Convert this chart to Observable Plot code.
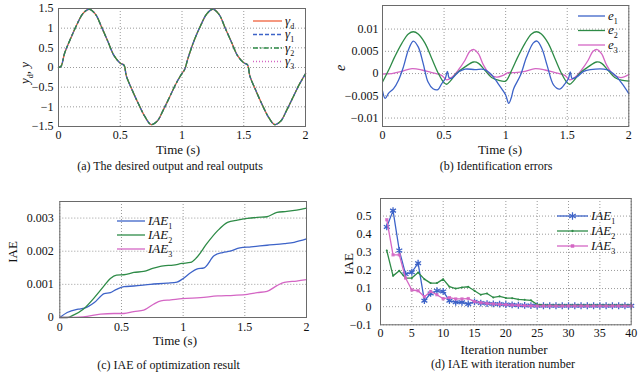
<!DOCTYPE html>
<html><head><meta charset="utf-8">
<script src="https://cdn.jsdelivr.net/npm/d3@7"></script>
<script src="https://cdn.jsdelivr.net/npm/@observablehq/plot@0.6"></script>
<style>
body{margin:0;background:#fff;}
#wrap{position:relative;width:641px;height:374px;overflow:hidden;font-family:"Liberation Serif","Times New Roman",serif;color:#111;}
#wrap svg, #wrap svg text{font-family:"Liberation Serif","Times New Roman",serif !important;}
.panel{position:absolute;}
.cap{position:absolute;font-size:12px;line-height:14px;white-space:nowrap;transform:translateX(-50%);}
</style></head><body><div id="wrap"></div>
<script>
// ---------- (a) desired output and real outputs ----------
const tA = [0,0.02,0.05,0.1,0.15,0.2,0.25,0.3,0.35,0.4,0.45,0.5,0.53,0.55,0.6,0.65,0.7,0.75,0.8,0.85,0.9,0.95,1.0,1.02,1.05,1.1,1.15,1.2,1.25,1.3,1.35,1.4,1.45,1.5,1.53,1.55,1.6,1.65,1.7,1.75,1.8,1.85,1.9,1.95,2.0];
const yd = [0,0.03,0.37,0.75,1.1,1.38,1.48,1.35,1.02,0.66,0.3,0.11,0.06,-0.22,-0.6,-0.94,-1.25,-1.45,-1.36,-1.07,-0.75,-0.42,-0.15,-0.06,0.25,0.7,1.06,1.36,1.48,1.35,1.0,0.65,0.3,0.12,0.07,-0.22,-0.6,-0.95,-1.26,-1.45,-1.36,-1.07,-0.75,-0.43,-0.16];
const y1 = [0,0.03,0.37,0.75,1.1,1.38,1.48,1.35,1.02,0.66,0.3,0.11,0.06,-0.22,-0.6,-0.94,-1.25,-1.45,-1.36,-1.07,-0.75,-0.42,-0.15,-0.06,0.25,0.7,1.06,1.36,1.48,1.35,1.0,0.65,0.3,0.12,0.07,-0.22,-0.6,-0.95,-1.26,-1.45,-1.36,-1.07,-0.75,-0.43,-0.16];
const y2 = [0,0.03,0.37,0.75,1.1,1.38,1.48,1.35,1.02,0.66,0.3,0.11,0.06,-0.22,-0.6,-0.94,-1.25,-1.45,-1.36,-1.07,-0.75,-0.42,-0.15,-0.06,0.25,0.7,1.06,1.36,1.48,1.35,1.0,0.65,0.3,0.12,0.07,-0.22,-0.6,-0.95,-1.26,-1.45,-1.36,-1.07,-0.75,-0.43,-0.16];
const y3 = [0,0.03,0.37,0.75,1.1,1.38,1.48,1.35,1.02,0.66,0.3,0.11,0.06,-0.22,-0.6,-0.94,-1.25,-1.45,-1.36,-1.07,-0.75,-0.42,-0.15,-0.06,0.25,0.7,1.06,1.36,1.48,1.35,1.0,0.65,0.3,0.12,0.07,-0.22,-0.6,-0.95,-1.26,-1.45,-1.36,-1.07,-0.75,-0.43,-0.16];

// ---------- (b) identification errors ----------
const tE1 = [0,0.022,0.05,0.09,0.13,0.17,0.21,0.25,0.29,0.33,0.37,0.41,0.45,0.48,0.51,0.527,0.54,0.56,0.62,0.67,0.75,0.83,0.89,0.94,0.97,1.0,1.025,1.045,1.065,1.12,1.17,1.225,1.255,1.295,1.336,1.39,1.44,1.484,1.51,1.525,1.54,1.58,1.634,1.687,1.82,1.89,1.944,2.0];
const e1  = [-0.0039,-0.0056,-0.0044,-0.0034,-0.0015,0.0015,0.0053,0.0073,0.006,0.0023,-0.0019,-0.0034,-0.0036,-0.0023,-0.0011,0.0005,-0.0009,-0.0011,0.0004,0.001,0.0009,0.0009,-0.0004,-0.0023,-0.0035,-0.0048,-0.0067,-0.0055,-0.0034,-0.0004,0.0037,0.0069,0.0073,0.0056,0.0019,-0.0026,-0.0035,-0.0022,-0.0011,0.0004,-0.0011,-0.0007,0.0005,0.0009,0.0009,-0.0004,-0.0022,-0.0045];
const tE2 = [0,0.05,0.1,0.157,0.21,0.25,0.29,0.346,0.4,0.454,0.495,0.52,0.55,0.6,0.67,0.74,0.78,0.83,0.886,0.94,1.0,1.05,1.1,1.157,1.21,1.25,1.29,1.346,1.4,1.454,1.495,1.52,1.55,1.6,1.67,1.74,1.78,1.83,1.886,1.94,2.0];
const e2  = [-0.0019,0.0008,0.0038,0.0068,0.0089,0.0094,0.0089,0.0068,0.0034,0,-0.0019,-0.0024,-0.0017,0,0.0015,0.0026,0.0023,0.0008,-0.0009,-0.0015,-0.0017,0.0008,0.0038,0.0068,0.0089,0.0094,0.0089,0.0068,0.0034,0,-0.0019,-0.0024,-0.0017,0,0.0015,0.0026,0.0023,0.0008,-0.0009,-0.0015,-0.0017];
const tE3 = [0,0.076,0.157,0.24,0.32,0.4,0.48,0.52,0.56,0.616,0.67,0.71,0.743,0.78,0.82,0.873,0.927,0.98,1.02,1.076,1.157,1.24,1.32,1.4,1.48,1.52,1.56,1.616,1.67,1.71,1.743,1.78,1.82,1.873,1.935,2.0];
const e3  = [-0.0001,0,0.0005,0.0011,0.0008,0.0002,-0.0004,-0.0014,-0.0009,0.0008,0.003,0.005,0.0054,0.0044,0.0019,-0.0002,-0.0008,-0.0004,0.0002,0.0002,0.0005,0.0011,0.0008,0.0002,-0.0004,-0.0014,-0.0009,0.0008,0.003,0.005,0.0054,0.0044,0.0019,-0.0002,-0.0009,-0.0002];

// ---------- (c) IAE of optimization result ----------
const tC1 = [0,0.06,0.15,0.2,0.28,0.36,0.41,0.46,0.52,0.6,0.735,0.87,0.95,0.99,1.06,1.11,1.17,1.25,1.32,1.38,1.46,1.55,1.68,1.82,1.9,2.0];
const iaeC1 = [0,0.00015,0.00025,0.00028,0.00045,0.00072,0.00075,0.00085,0.00093,0.00095,0.001,0.00104,0.00107,0.00115,0.00135,0.00146,0.0015,0.00186,0.00196,0.002,0.0021,0.00213,0.00218,0.00223,0.00227,0.00237];
const tC2 = [0,0.06,0.11,0.19,0.28,0.36,0.41,0.46,0.52,0.6,0.68,0.76,0.84,0.92,0.99,1.06,1.11,1.19,1.28,1.36,1.44,1.52,1.6,1.68,1.76,1.84,1.92,2.0];
const iaeC2 = [0,0,0.00007,0.00025,0.0006,0.00096,0.00118,0.00128,0.00129,0.00136,0.00139,0.00149,0.00156,0.00158,0.00163,0.00166,0.00181,0.00222,0.00262,0.00287,0.00294,0.00299,0.00302,0.00304,0.00317,0.0032,0.00324,0.0033];
const tC3 = [0,0.19,0.33,0.44,0.52,0.6,0.68,0.76,0.82,0.9,0.99,1.14,1.28,1.41,1.52,1.6,1.68,1.76,1.82,1.92,2.0];
const iaeC3 = [0,0.00002,0.0001,0.00012,0.00012,0.00018,0.00022,0.0004,0.0005,0.00053,0.00057,0.0006,0.00065,0.00067,0.0007,0.00075,0.00079,0.00096,0.00106,0.0011,0.00114];

// ---------- (d) IAE with iteration number ----------
const iter = [1,2,3,4,5,6,7,8,9,10,11,12,13,14,15,16,17,18,19,20,21,22,23,24,25,26,27,28,29,30,31,32,33,34,35,36,37,38,39,40];
const iaeD1 = [0.44,0.53,0.31,0.18,0.19,0.24,0.033,0.073,0.088,0.084,0.033,0.024,0.024,0.015,0.027,0.02,0.017,0.015,0.014,0.012,0.01,0.008,0.007,0.006,0.005,0.005,0.005,0.005,0.005,0.005,0.005,0.005,0.005,0.005,0.005,0.005,0.005,0.005,0.005,0.005];
const iaeD2 = [0.31,0.17,0.198,0.158,0.158,0.189,0.152,0.13,0.13,0.152,0.11,0.1,0.106,0.11,0.088,0.066,0.073,0.051,0.057,0.048,0.047,0.04,0.038,0.035,0.012,0.008,0.008,0.008,0.008,0.008,0.008,0.008,0.008,0.008,0.008,0.008,0.008,0.008,0.008,0.008];
const iaeD3 = [0.48,0.286,0.286,0.158,0.092,0.088,0.055,0.084,0.066,0.044,0.05,0.043,0.043,0.045,0.028,0.022,0.018,0.015,0.013,0.011,0.009,0.008,0.006,0.005,0.004,0.004,0.004,0.004,0.004,0.004,0.004,0.004,0.004,0.004,0.004,0.004,0.004,0.004,0.004,0.004];

// ---------- ticks ----------
const xTicksT = [0,0.5,1,1.5,2];
const yTicksA = [-1.5,-1,-0.5,0,0.5,1,1.5];
const yTicksB = [-0.01,-0.005,0,0.005,0.01];
const yTicksC = [0,0.001,0.002,0.003];
const xTicksD = [0,5,10,15,20,25,30,35,40];
const yTicksD = [-0.1,0,0.1,0.2,0.3,0.4,0.5];

const captions = ["(a) The desired output and real outputs","(b) Identification errors","(c) IAE of optimization result","(d) IAE with iteration number"];

// ---------- styling ----------
const FONT = "Liberation Serif, Times New Roman, serif";
const RED = "#f0603c", BLUE = "#3d63c8", GREEN = "#2e8b47", MAG = "#d466c4";
const fmt = d => String(d).replace("-", "\u2212");
const tbl = (xs, vs) => xs.map((x, i) => ({x, v: vs[i]}));
const wrap = document.getElementById("wrap");

function makePanel(o) {
  const svg = Plot.plot({
    width: o.width, height: o.height,
    marginTop: o.mt, marginRight: o.mr, marginBottom: o.mb, marginLeft: o.ml,
    style: {fontFamily: FONT, fontSize: "12px", color: "#111", background: "transparent", overflow: "visible"},
    x: {domain: o.xDomain, label: null},
    y: {domain: o.yDomain, label: null},
    marks: [
      Plot.gridX(o.xTicks, {stroke: "#9a9a9a", strokeOpacity: 1, strokeDasharray: "1,2"}),
      Plot.gridY(o.yTicks, {stroke: "#9a9a9a", strokeOpacity: 1, strokeDasharray: "1,2"}),
      ...o.marks,
      Plot.frame({stroke: "#6a6a6a"}),
      Plot.axisX(o.xTicks, {tickSize: 0, tickPadding: o.xpad, tickFormat: fmt, label: null, fill: "#111", fontSize: 12, fontFamily: FONT}),
      Plot.axisY(o.yTicks, {tickSize: 0, tickPadding: o.ypad, tickFormat: fmt, label: null, fill: "#111", fontSize: 12, fontFamily: FONT})
    ]
  });
  const div = document.createElement("div");
  div.className = "panel";
  div.style.left = o.left + "px";
  div.style.top = o.top + "px";
  div.appendChild(svg);
  wrap.appendChild(div);
  return svg;
}

function rich(svg, {x, y, size = 13, italic = false, rotate = 0, anchor = "middle", parts}) {
  const t = d3.select(svg).append("text")
    .attr("transform", `translate(${x},${y}) rotate(${rotate})`)
    .attr("text-anchor", anchor)
    .attr("font-family", FONT).attr("font-size", size)
    .attr("font-style", italic ? "italic" : "normal")
    .attr("fill", "#111");
  let shift = 0;
  for (const [s, sub] of parts) {
    const target = sub ? size * 0.3 : 0;
    const ts = t.append("tspan").text(s).attr("dy", target - shift);
    if (sub) ts.attr("font-size", size * 0.62).attr("font-style", "normal");
    shift = target;
  }
  return t;
}

function legend(svg, items, {x1, x2, tx, ys, size, italic = true}) {
  const g = d3.select(svg).append("g");
  items.forEach((it, i) => {
    const y = ys[i];
    g.append("line").attr("x1", x1).attr("x2", x2).attr("y1", y).attr("y2", y)
      .attr("stroke", it.stroke).attr("stroke-width", 1.3)
      .attr("stroke-dasharray", it.dash || null);
    if (it.symbol) {
      g.append("path").attr("d", d3.symbol(it.symbol, it.symSize)())
        .attr("transform", `translate(${(x1 + x2) / 2},${y})`)
        .attr("fill", it.fill || "none").attr("stroke", it.symStroke || "none").attr("stroke-width", 1.2);
    }
    rich(svg, {x: tx, y: y + size * 0.3, size, italic, anchor: "start", parts: it.parts});
  });
}

// ---------- panel (a) ----------
{
  const line = (vals, stroke, dash, w) => Plot.line(tbl(tA, vals), {x: "x", y: "v", stroke, strokeWidth: w, strokeDasharray: dash, curve: "catmull-rom"});
  const svg = makePanel({
    left: 0, top: 0, width: 320, height: 160, mt: 8, mr: 15, mb: 34, ml: 58,
    xDomain: [0, 2], yDomain: [-1.5, 1.5], xTicks: xTicksT, yTicks: yTicksA, xpad: 3.5, ypad: 5,
    marks: [line(y3, MAG, "1,2", 1), line(yd, RED, null, 1.4), line(y1, BLUE, "4,3", 1.3), line(y2, GREEN, "6,3,1.5,3", 1.3)]
  });
  rich(svg, {x: 178, y: 153.5, size: 13, parts: [["Time (s)"]]});
  rich(svg, {x: 29, y: 73, size: 13, italic: true, rotate: -90, parts: [["y"], ["d", true], [", y"]]});
  legend(svg, [
    {stroke: RED, parts: [["\u03b3"], ["d", true]]},
    {stroke: BLUE, dash: "4,2", parts: [["\u03b3"], ["1", true]]},
    {stroke: GREEN, dash: "5,2,1.5,2", parts: [["\u03b3"], ["2", true]]},
    {stroke: MAG, dash: "1,2", parts: [["\u03b3"], ["3", true]]}
  ], {x1: 253, x2: 282, tx: 285, ys: [21, 34.5, 48, 61.5], size: 13});
}

// ---------- panel (b) ----------
{
  const line = (xs, vals, stroke) => Plot.line(tbl(xs, vals), {x: "x", y: "v", stroke, strokeWidth: 1.3, curve: "catmull-rom"});
  const svg = makePanel({
    left: 320, top: 0, width: 321, height: 160, mt: 5, mr: 12.7, mb: 34, ml: 62,
    xDomain: [0, 2], yDomain: [-0.0119, 0.0153], xTicks: xTicksT, yTicks: yTicksB, xpad: 3.5, ypad: 4,
    marks: [line(tE3, e3, MAG), line(tE2, e2, GREEN), line(tE1, e1, BLUE)]
  });
  rich(svg, {x: 180, y: 153.5, size: 13, parts: [["Time (s)"]]});
  rich(svg, {x: 25, y: 68, size: 14, italic: true, rotate: -90, parts: [["e"]]});
  legend(svg, [
    {stroke: BLUE, parts: [["e"], ["1", true]]},
    {stroke: GREEN, parts: [["e"], ["2", true]]},
    {stroke: MAG, parts: [["e"], ["3", true]]}
  ], {x1: 258, x2: 285, tx: 288, ys: [16, 30.5, 45], size: 13});
}

// ---------- panel (c) ----------
{
  const line = (xs, vals, stroke) => Plot.line(tbl(xs, vals), {x: "x", y: "v", stroke, strokeWidth: 1.3, curve: "monotone-x"});
  const svg = makePanel({
    left: 0, top: 187, width: 320, height: 162, mt: 14, mr: 14, mb: 32, ml: 59.3,
    xDomain: [0, 2], yDomain: [0, 0.0035], xTicks: xTicksT, yTicks: yTicksC, xpad: 5, ypad: 6,
    marks: [line(tC1, iaeC1, BLUE), line(tC2, iaeC2, GREEN), line(tC3, iaeC3, MAG)]
  });
  rich(svg, {x: 175, y: 158, size: 13, parts: [["Time (s)"]]});
  rich(svg, {x: 17, y: 65, size: 13, rotate: -90, parts: [["IAE"]]});
  legend(svg, [
    {stroke: BLUE, parts: [["IAE"], ["1", true]]},
    {stroke: GREEN, parts: [["IAE"], ["2", true]]},
    {stroke: MAG, parts: [["IAE"], ["3", true]]}
  ], {x1: 117, x2: 145, tx: 148, ys: [34, 48, 62], size: 13});
}

// ---------- panel (d) ----------
{
  const d1 = tbl(iter, iaeD1), d2 = tbl(iter, iaeD2), d3v = tbl(iter, iaeD3);
  const svg = makePanel({
    left: 320, top: 187, width: 321, height: 170, mt: 11, mr: 10.3, mb: 32.7, ml: 60,
    xDomain: [0, 40], yDomain: [-0.1, 0.597], xTicks: xTicksD, yTicks: yTicksD, xpad: 4, ypad: 9,
    marks: [
      Plot.line(d1, {x: "x", y: "v", stroke: BLUE, strokeWidth: 1.3}),
      Plot.dot(d1, {x: "x", y: "v", symbol: "asterisk", r: 3.2, stroke: BLUE, strokeWidth: 1.3}),
      Plot.line(d2, {x: "x", y: "v", stroke: GREEN, strokeWidth: 1.3}),
      Plot.dot(d2, {x: "x", y: "v", r: 1, fill: GREEN}),
      Plot.line(d3v, {x: "x", y: "v", stroke: MAG, strokeWidth: 1.3}),
      Plot.dot(d3v, {x: "x", y: "v", symbol: "square", r: 1.8, fill: MAG, fillOpacity: 0.85})
    ]
  });
  rich(svg, {x: 184, y: 167, size: 13, parts: [["Iteration number"]]});
  rich(svg, {x: 33, y: 77, size: 13, rotate: -90, parts: [["IAE"]]});
  legend(svg, [
    {stroke: BLUE, symbol: d3.symbolAsterisk, symSize: 40, symStroke: BLUE, parts: [["IAE"], ["1", true]]},
    {stroke: GREEN, symbol: d3.symbolCircle, symSize: 4, fill: GREEN, parts: [["IAE"], ["2", true]]},
    {stroke: MAG, symbol: d3.symbolSquare, symSize: 12, fill: MAG, parts: [["IAE"], ["3", true]]}
  ], {x1: 237, x2: 268, tx: 271, ys: [29, 44, 59], size: 13});
}

// ---------- captions ----------
[[170, 159], [496, 159], [168.5, 358], [503, 357]].forEach(([cx, cy], i) => {
  const d = document.createElement("div");
  d.className = "cap";
  d.style.left = cx + "px";
  d.style.top = cy + "px";
  d.textContent = captions[i];
  wrap.appendChild(d);
});
</script>
</body></html>
